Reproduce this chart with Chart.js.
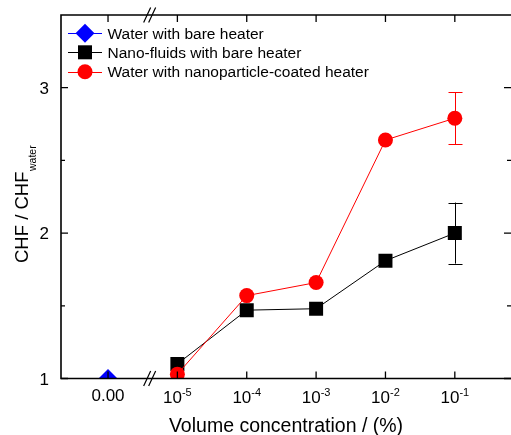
<!DOCTYPE html>
<html>
<head>
<meta charset="utf-8">
<script src="https://cdn.jsdelivr.net/npm/chart.js@4"></script>
<style>
html,body{margin:0;padding:0;background:#fff;overflow:hidden;}
canvas{display:block;}
</style>
</head>
<body>
<canvas id="c" width="511" height="435"></canvas>
<script>
// ---- data ----
const categories = ['0.00', '10^-5', '10^-4', '10^-3', '10^-2', '10^-1'];
const waterBare = [1.00, null, null, null, null, null];
const nanoBare = [null, 1.10, 1.47, 1.48, 1.81, 2.00];
const nanoBareErr = [null, null, null, null, null, 0.21];
const coated = [null, 1.03, 1.57, 1.66, 2.64, 2.79];
const coatedErr = [null, null, null, null, null, 0.18];
const yMajorTicks = [1, 2, 3];
const yMinorTicks = [1.5, 2.5];
const xBreakAt = 0.6;
const legendLabels = ['Water with bare heater', 'Nano-fluids with bare heater', 'Water with nanoparticle-coated heater'];

const FONT = '"Liberation Sans", Arial, Helvetica, sans-serif';

function toPoints(vals, errs) {
  const out = [];
  vals.forEach((v, i) => { if (v !== null) out.push({x: i, y: v, err: errs ? errs[i] : null}); });
  return out;
}

function drawMarker(ctx, style, r, x, y, color) {
  ctx.save();
  ctx.fillStyle = color;
  ctx.beginPath();
  if (style === 'circle') {
    ctx.arc(x, y, r, 0, Math.PI * 2);
  } else if (style === 'rect') {
    const s = r * Math.SQRT1_2;
    ctx.rect(x - s, y - s, 2 * s, 2 * s);
  } else if (style === 'rectRot') {
    ctx.moveTo(x - r, y); ctx.lineTo(x, y - r); ctx.lineTo(x + r, y); ctx.lineTo(x, y + r); ctx.closePath();
  }
  ctx.fill();
  ctx.restore();
}

const decorPlugin = {
  id: 'decor',
  afterDatasetsDraw(chart) {
    const ctx = chart.ctx, xs = chart.scales.x, ys = chart.scales.y, a = chart.chartArea;
    // error bars
    ctx.save();
    ctx.beginPath(); ctx.rect(a.left, a.top, a.right - a.left, a.bottom - a.top); ctx.clip();
    chart.data.datasets.forEach(ds => {
      ds.data.forEach(p => {
        if (p.err === null || p.err === undefined) return;
        const px = Math.round(xs.getPixelForValue(p.x)) + 0.5;
        const yt = ys.getPixelForValue(p.y + p.err), yb = ys.getPixelForValue(p.y - p.err);
        ctx.strokeStyle = ds.borderColor; ctx.lineWidth = 1;
        ctx.beginPath();
        ctx.moveTo(px, yt); ctx.lineTo(px, yb);
        ctx.moveTo(px - 7, Math.round(yt) + 0.5); ctx.lineTo(px + 7, Math.round(yt) + 0.5);
        ctx.moveTo(px - 7, Math.round(yb) + 0.5); ctx.lineTo(px + 7, Math.round(yb) + 0.5);
        ctx.stroke();
      });
    });
    ctx.restore();
  },
  afterDraw(chart) {
    const ctx = chart.ctx, xs = chart.scales.x, ys = chart.scales.y, a = chart.chartArea;
    ctx.save();
    ctx.strokeStyle = '#000'; ctx.fillStyle = '#000';
    // frame (left, top, bottom)
    ctx.lineWidth = 1.6;
    ctx.beginPath();
    ctx.moveTo(a.right + 2, a.top); ctx.lineTo(a.left, a.top); ctx.lineTo(a.left, a.bottom); ctx.lineTo(a.right + 2, a.bottom);
    ctx.stroke();
    // y ticks
    ctx.lineWidth = 1.3;
    ctx.beginPath();
    yMajorTicks.forEach(v => {
      const py = ys.getPixelForValue(v);
      ctx.moveTo(a.left, py); ctx.lineTo(a.left + 7, py);
      ctx.moveTo(a.right, py); ctx.lineTo(a.right - 7, py);
    });
    yMinorTicks.forEach(v => {
      const py = ys.getPixelForValue(v);
      ctx.moveTo(a.left, py); ctx.lineTo(a.left + 4, py);
      ctx.moveTo(a.right, py); ctx.lineTo(a.right - 4, py);
    });
    // x ticks
    categories.forEach((c, i) => {
      const px = xs.getPixelForValue(i);
      ctx.moveTo(px, a.top); ctx.lineTo(px, a.top + 7);
      ctx.moveTo(px, a.bottom); ctx.lineTo(px, a.bottom - 7);
    });
    ctx.stroke();
    // axis breaks
    const bx = xs.getPixelForValue(xBreakAt);
    ctx.lineWidth = 1.2;
    ctx.beginPath();
    [a.top, a.bottom].forEach(yy => {
      ctx.moveTo(bx - 6, yy + 7.5); ctx.lineTo(bx + 1, yy - 7.5);
      ctx.moveTo(bx - 1, yy + 7.5); ctx.lineTo(bx + 6, yy - 7.5);
    });
    ctx.stroke();

    // y tick labels
    ctx.font = '17px ' + FONT;
    ctx.textAlign = 'right'; ctx.textBaseline = 'alphabetic';
    yMajorTicks.forEach(v => {
      ctx.fillText(String(v), a.left - 12, ys.getPixelForValue(v) + 6);
    });
    // x tick labels
    categories.forEach((c, i) => {
      const px = xs.getPixelForValue(i);
      const parts = c.split('^');
      ctx.textAlign = 'left';
      if (parts.length === 1) {
        ctx.font = '17px ' + FONT;
        const w = ctx.measureText(c).width;
        ctx.fillText(c, px - w / 2, 401);
      } else {
        ctx.font = '17px ' + FONT;
        const w1 = ctx.measureText(parts[0]).width;
        ctx.font = '11px ' + FONT;
        const w2 = ctx.measureText(parts[1]).width;
        const x0 = px - (w1 + w2) / 2;
        ctx.font = '17px ' + FONT;
        ctx.fillText(parts[0], x0, 403);
        ctx.font = '11px ' + FONT;
        ctx.fillText(parts[1], x0 + w1, 395.5);
      }
    });
    // x title
    ctx.font = '19.5px ' + FONT;
    ctx.textAlign = 'center';
    ctx.fillText('Volume concentration / (%)', (a.left + a.right) / 2, 431.5);
    // y title with subscript
    ctx.save();
    ctx.translate(28, 263);
    ctx.rotate(-Math.PI / 2);
    ctx.textAlign = 'left';
    ctx.font = '18.5px ' + FONT;
    const main = 'CHF / CHF';
    const mw = ctx.measureText(main).width;
    ctx.fillText(main, 0, 0);
    ctx.font = '10.5px ' + FONT;
    ctx.fillText('water', mw + 0.5, 8);
    ctx.restore();

    // legend
    const rows = [33.3, 52.3, 71.7];
    const order = [0, 1, 2];
    order.forEach((di, k) => {
      const ds = chart.data.datasets[di];
      const y = rows[k];
      ctx.strokeStyle = ds.borderColor; ctx.lineWidth = 1;
      ctx.beginPath(); ctx.moveTo(68, Math.round(y) + 0.5); ctx.lineTo(102, Math.round(y) + 0.5); ctx.stroke();
      drawMarker(ctx, ds.pointStyle, ds.pointRadius, 85, y, ds.pointBackgroundColor);
      ctx.fillStyle = '#000';
      ctx.font = '15.5px ' + FONT;
      ctx.textAlign = 'left';
      ctx.fillText(legendLabels[k], 107.5, y + 5.5);
    });
    ctx.restore();
  }
};

new Chart(document.getElementById('c'), {
  type: 'scatter',
  data: {
    datasets: [
      {
        label: legendLabels[0],
        data: toPoints(waterBare, null),
        borderColor: '#0000FF', backgroundColor: '#0000FF',
        pointBackgroundColor: '#0000FF', pointStyle: 'rectRot', pointRadius: 9.5,
        pointBorderWidth: 0, showLine: false, order: 2
      },
      {
        label: legendLabels[1],
        data: toPoints(nanoBare, nanoBareErr),
        borderColor: '#000000', backgroundColor: '#000000',
        pointBackgroundColor: '#000000', pointStyle: 'rect', pointRadius: 9.9,
        pointBorderWidth: 0, showLine: true, borderWidth: 1, order: 1
      },
      {
        label: legendLabels[2],
        data: toPoints(coated, coatedErr),
        borderColor: '#FF0000', backgroundColor: '#FF0000',
        pointBackgroundColor: '#FF0000', pointStyle: 'circle', pointRadius: 7.5,
        pointBorderWidth: 0, showLine: true, borderWidth: 1, order: 0
      }
    ]
  },
  options: {
    responsive: false,
    animation: false,
    devicePixelRatio: 1,
    layout: { autoPadding: false, padding: { left: 61, right: 0, top: 15, bottom: 56.5 } },
    plugins: { legend: { display: false }, tooltip: { enabled: false }, title: { display: false } },
    scales: {
      x: { type: 'linear', display: false, min: -0.678, max: 5.81 },
      y: { type: 'linear', display: false, min: 1, max: 3.5 }
    },
    elements: { point: { hoverRadius: 0 } }
  },
  plugins: [decorPlugin]
});
</script>
</body>
</html>
